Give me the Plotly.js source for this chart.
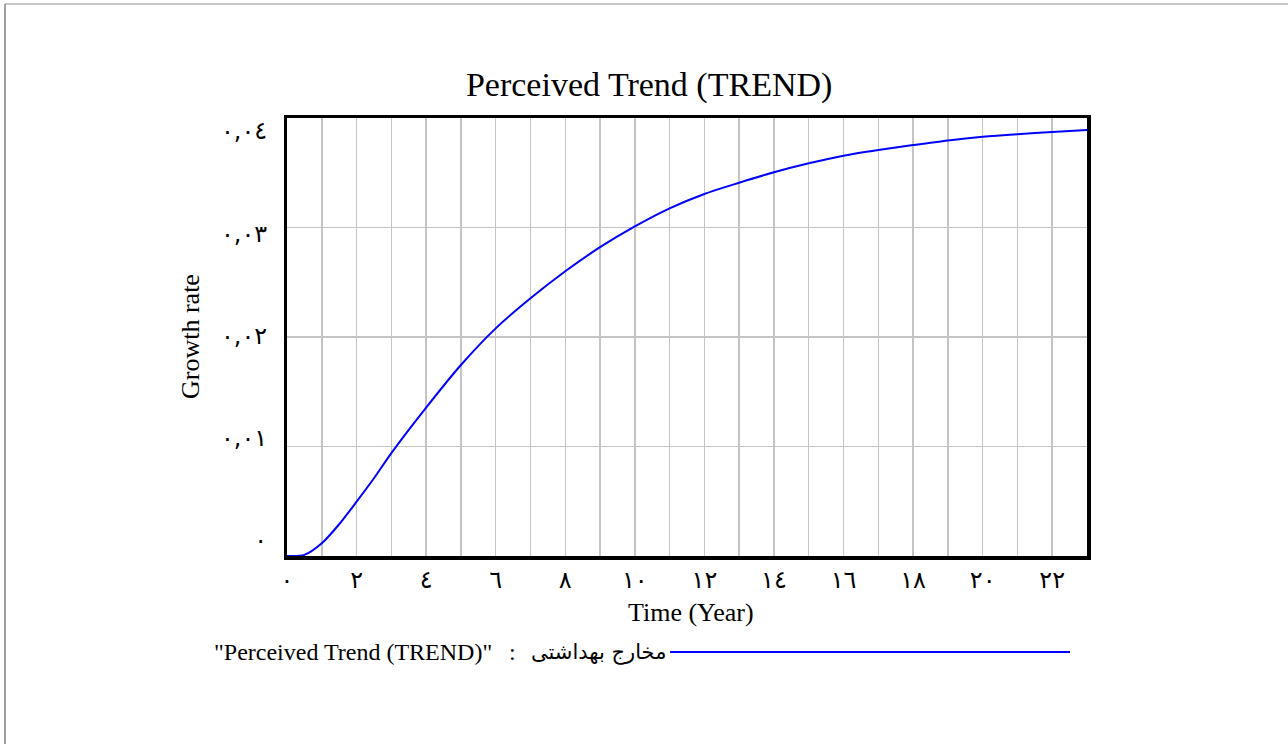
<!DOCTYPE html>
<html>
<head>
<meta charset="utf-8">
<script src="https://cdn.plot.ly/plotly-3.0.1.min.js"></script>
<style>
html,body{margin:0;padding:0;background:#fff;}
#chart{width:1288px;height:744px;}
</style>
</head>
<body>
<div id="chart"></div>
<script>
// Data
const timeYears = [0, 0.5, 1, 1.5, 2, 2.5, 3, 4, 5, 6, 7, 8, 9, 10, 11, 12, 13, 14, 15, 16, 17, 18, 19, 20, 21, 22, 23];
const perceivedTrend = [0, 0.0001, 0.00116, 0.0029, 0.00496, 0.0071, 0.0094, 0.01355, 0.01744, 0.02079, 0.02353, 0.026, 0.0282, 0.0301, 0.03175, 0.03306, 0.03409, 0.03504, 0.03586, 0.03656, 0.03708, 0.03753, 0.03795, 0.03828, 0.03852, 0.03872, 0.0389];

const xTickVals = [0,1,2,3,4,5,6,7,8,9,10,11,12,13,14,15,16,17,18,19,20,21,22,23];
const xTickText = ['٠','','٢','','٤','','٦','','٨','','١٠','','١٢','','١٤','','١٦','','١٨','','٢٠','','٢٢',''];
const yTickVals = [0, 0.01, 0.02, 0.03, 0.04];
const yTickText = ['٠','٠,٠١','٠,٠٢','٠,٠٣','٠,٠٤'];

const chartTitle = 'Perceived Trend (TREND)';
const xTitle = 'Time (Year)';
const yTitle = 'Growth rate';
const legendVariable = '"Perceived Trend (TREND)"';
const legendSeparator = ':';
const legendRun = 'مخارج بهداشتی';

const serif = 'Liberation Serif, Times New Roman, serif';
const arabicFont = 'DejaVu Sans, sans-serif';
const lineBlue = '#0000ff';

const traces = [
  {
    x: timeYears,
    y: perceivedTrend,
    type: 'scatter',
    mode: 'lines',
    line: {color: lineBlue, width: 2, shape: 'spline', smoothing: 0.8},
    showlegend: false,
    hoverinfo: 'x+y'
  },
  {
    // invisible trace to carry the y-axis label overlay
    x: [0], y: [0], yaxis: 'y2', type: 'scatter', mode: 'markers',
    marker: {opacity: 0}, showlegend: false, hoverinfo: 'skip'
  }
];

const layout = {
  width: 1288,
  height: 744,
  margin: {l: 287, r: 201, t: 118, b: 188},
  paper_bgcolor: '#ffffff',
  plot_bgcolor: '#ffffff',
  font: {family: serif, color: '#000000'},
  showlegend: false,
  title: {
    text: chartTitle,
    font: {family: serif, size: 34, color: '#000'},
    xref: 'container', x: 0.504, xanchor: 'center',
    yref: 'container', y: 0.887, yanchor: 'middle'
  },
  xaxis: {
    range: [0, 23],
    tickmode: 'array',
    tickvals: xTickVals,
    ticktext: xTickText,
    ticks: 'outside', ticklen: 0, tickcolor: 'rgba(0,0,0,0)',
    tickfont: {family: arabicFont, size: 24, color: '#000'},
    showgrid: true, gridcolor: '#c4c4c4', gridwidth: 1.5,
    zeroline: false,
    showline: true, linecolor: '#000', linewidth: 3.5, mirror: true,
    fixedrange: true
  },
  yaxis: {
    range: [0, 0.04],
    tickmode: 'array',
    tickvals: yTickVals,
    showticklabels: false,
    ticks: '',
    showgrid: true, gridcolor: '#c4c4c4', gridwidth: 1.5,
    zeroline: false,
    showline: true, linecolor: '#000', linewidth: 3.5, mirror: true,
    fixedrange: true
  },
  yaxis2: {
    overlaying: 'y',
    side: 'left',
    range: [-0.001565, 0.041271],
    tickmode: 'array',
    tickvals: yTickVals,
    ticktext: yTickText,
    ticks: 'outside', ticklen: 14, tickcolor: 'rgba(0,0,0,0)',
    tickfont: {family: arabicFont, size: 24, color: '#000'},
    showgrid: false, zeroline: false, showline: false,
    fixedrange: true
  },
  annotations: [
    {
      text: xTitle, xref: 'paper', yref: 'paper',
      x: 0.505, y: -0.1279, xanchor: 'center', yanchor: 'middle',
      showarrow: false, font: {family: serif, size: 26, color: '#000'}
    },
    {
      text: yTitle, xref: 'paper', yref: 'paper',
      x: -0.12125, y: 0.5, xanchor: 'center', yanchor: 'middle',
      textangle: -90,
      showarrow: false, font: {family: serif, size: 26, color: '#000'}
    },
    {
      text: legendVariable, xref: 'paper', yref: 'paper',
      x: 0.2588, y: -0.2192, xanchor: 'right', yanchor: 'middle',
      showarrow: false, font: {family: serif, size: 24, color: '#000'}
    },
    {
      text: legendSeparator, xref: 'paper', yref: 'paper',
      x: 0.2813, y: -0.2192, xanchor: 'center', yanchor: 'middle',
      showarrow: false, font: {family: serif, size: 24, color: '#000'}
    },
    {
      text: legendRun, xref: 'paper', yref: 'paper',
      x: 0.4763, y: -0.2192, xanchor: 'right', yanchor: 'middle',
      showarrow: false, font: {family: arabicFont, size: 21, color: '#000'}
    }
  ],
  shapes: [
    {
      type: 'line', xref: 'paper', yref: 'paper',
      x0: 0.4788, x1: 0.9788, y0: -0.2192, y1: -0.2192,
      line: {color: lineBlue, width: 2}
    },
    {
      type: 'line', xref: 'paper', yref: 'paper',
      x0: -0.3525, x1: 1.26, y0: 1.2603, y1: 1.2603,
      line: {color: '#c6c6c6', width: 2}
    },
    {
      type: 'line', xref: 'paper', yref: 'paper',
      x0: -0.3525, x1: -0.3525, y0: 1.2603, y1: -0.45,
      line: {color: '#a0a0a0', width: 2}
    }
  ]
};

Plotly.newPlot('chart', traces, layout, {displayModeBar: false, staticPlot: true});
</script>
</body>
</html>
